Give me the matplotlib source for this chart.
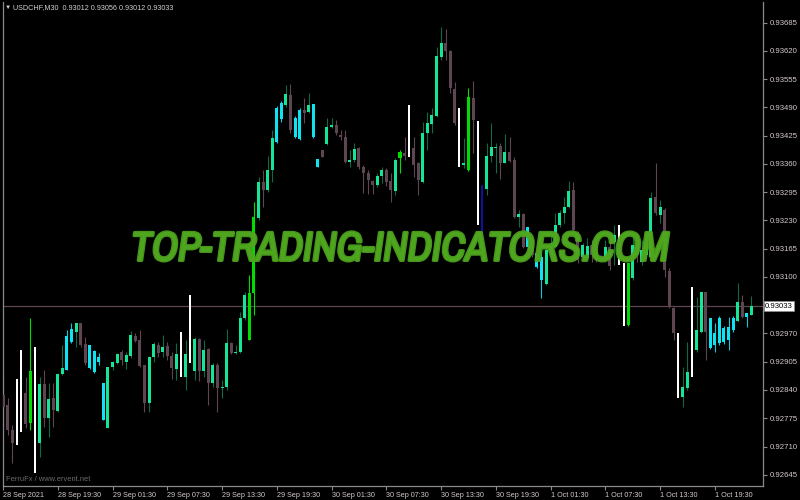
import numpy as np
import matplotlib.pyplot as plt
import matplotlib.patheffects as pe
from matplotlib import font_manager

# USDCHF M30, 28 Sep 2021 13:30 .. 1 Oct 2021 23:30 (one bar per 30 min)
opens = [
    0.92829, 0.92806, 0.92748, 0.92714, 0.92743, 0.92833, 0.92764, 0.92649, 0.92718, 0.92854,
    0.92776, 0.92822, 0.92792, 0.92877, 0.92886, 0.92950, 0.92973, 0.92994, 0.92946, 0.92891,
    0.92881, 0.92904, 0.92771, 0.92753, 0.92893, 0.92902, 0.92927, 0.92904, 0.92918, 0.92964,
    0.92955, 0.92898, 0.92810, 0.92916, 0.92944, 0.92927, 0.92941, 0.92918, 0.92888, 0.92870,
    0.92870, 0.92902, 0.92884, 0.92957, 0.92884, 0.92934, 0.92856, 0.92898, 0.92845, 0.92847,
    0.92948, 0.92925, 0.92927, 0.93006, 0.92955, 0.93063, 0.93236, 0.93318, 0.93300, 0.93346,
    0.93410, 0.93463, 0.93496, 0.93519, 0.93422, 0.93417, 0.93484, 0.93479, 0.93422, 0.93353,
    0.93392, 0.93406, 0.93445, 0.93450, 0.93427, 0.93422, 0.93364, 0.93369, 0.93397, 0.93353,
    0.93339, 0.93321, 0.93312, 0.93332, 0.93346, 0.93321, 0.93298, 0.93374, 0.93385, 0.93376,
    0.93397, 0.93362, 0.93318, 0.93431, 0.93452, 0.93470, 0.93606, 0.93638, 0.93620, 0.93532,
    0.93353, 0.93358, 0.93346, 0.93512, 0.93220, 0.93201, 0.93302, 0.93378, 0.93397, 0.93401,
    0.93362, 0.93387, 0.93369, 0.93238, 0.93245, 0.93169, 0.93185, 0.93123, 0.93093, 0.93084,
    0.93162, 0.93169, 0.93220, 0.93247, 0.93261, 0.93300, 0.93201, 0.93146, 0.93144, 0.93174,
    0.93174, 0.93137, 0.93139, 0.93169, 0.93180, 0.93128, 0.92987, 0.92990, 0.93098, 0.93174,
    0.93134, 0.93151, 0.93146, 0.93284, 0.93243, 0.93254, 0.93114, 0.93029, 0.92822, 0.92824,
    0.92845, 0.92870, 0.92932, 0.92973, 0.93065, 0.92937, 0.92944, 0.92948, 0.92950, 0.92955,
    0.92978, 0.92999, 0.93042, 0.93008, 0.93012,
]
highs = [
    0.92875, 0.92822, 0.92760, 0.92865, 0.92932, 0.92870, 0.93006, 0.92939, 0.92870, 0.92886,
    0.92856, 0.92856, 0.92879, 0.92944, 0.92978, 0.92994, 0.92994, 0.92994, 0.92962, 0.92944,
    0.92932, 0.92925, 0.92856, 0.92893, 0.92907, 0.92925, 0.92932, 0.92927, 0.92976, 0.92971,
    0.92978, 0.92898, 0.92918, 0.92950, 0.92950, 0.92967, 0.92950, 0.92927, 0.92948, 0.92973,
    0.92955, 0.93059, 0.92962, 0.92960, 0.92955, 0.92937, 0.92902, 0.92902, 0.92863, 0.92980,
    0.92950, 0.92944, 0.93019, 0.93065, 0.93105, 0.93272, 0.93330, 0.93346, 0.93378, 0.93438,
    0.93493, 0.93505, 0.93542, 0.93544, 0.93470, 0.93489, 0.93512, 0.93523, 0.93498, 0.93371,
    0.93392, 0.93466, 0.93466, 0.93461, 0.93438, 0.93438, 0.93392, 0.93408, 0.93399, 0.93358,
    0.93346, 0.93323, 0.93339, 0.93353, 0.93351, 0.93339, 0.93374, 0.93392, 0.93422, 0.93496,
    0.93422, 0.93364, 0.93456, 0.93479, 0.93489, 0.93629, 0.93675, 0.93670, 0.93622, 0.93548,
    0.93489, 0.93420, 0.93535, 0.93551, 0.93459, 0.93312, 0.93408, 0.93454, 0.93408, 0.93408,
    0.93429, 0.93422, 0.93376, 0.93254, 0.93247, 0.93215, 0.93190, 0.93157, 0.93155, 0.93167,
    0.93192, 0.93247, 0.93254, 0.93284, 0.93321, 0.93318, 0.93206, 0.93178, 0.93190, 0.93185,
    0.93178, 0.93151, 0.93185, 0.93185, 0.93220, 0.93220, 0.93132, 0.93132, 0.93201, 0.93178,
    0.93185, 0.93190, 0.93295, 0.93362, 0.93277, 0.93259, 0.93121, 0.93031, 0.92971, 0.92893,
    0.92950, 0.93077, 0.93054, 0.93065, 0.93065, 0.93006, 0.92994, 0.93010, 0.92987, 0.93008,
    0.93010, 0.93086, 0.93059, 0.93017, 0.93056,
]
lows = [
    0.92789, 0.92737, 0.92672, 0.92714, 0.92743, 0.92753, 0.92748, 0.92649, 0.92686, 0.92755,
    0.92732, 0.92755, 0.92789, 0.92875, 0.92886, 0.92948, 0.92939, 0.92939, 0.92898, 0.92888,
    0.92879, 0.92898, 0.92771, 0.92753, 0.92886, 0.92900, 0.92898, 0.92888, 0.92914, 0.92950,
    0.92893, 0.92789, 0.92789, 0.92904, 0.92916, 0.92916, 0.92909, 0.92865, 0.92863, 0.92870,
    0.92840, 0.92902, 0.92863, 0.92861, 0.92870, 0.92806, 0.92847, 0.92789, 0.92822, 0.92840,
    0.92923, 0.92923, 0.92925, 0.93001, 0.92955, 0.93013, 0.93231, 0.93261, 0.93295, 0.93318,
    0.93408, 0.93456, 0.93491, 0.93431, 0.93420, 0.93415, 0.93454, 0.93477, 0.93420, 0.93353,
    0.93376, 0.93404, 0.93443, 0.93427, 0.93415, 0.93362, 0.93353, 0.93364, 0.93348, 0.93293,
    0.93291, 0.93291, 0.93307, 0.93316, 0.93309, 0.93272, 0.93289, 0.93339, 0.93369, 0.93376,
    0.93330, 0.93289, 0.93316, 0.93392, 0.93431, 0.93468, 0.93599, 0.93599, 0.93523, 0.93450,
    0.93353, 0.93351, 0.93344, 0.93385, 0.93220, 0.93201, 0.93289, 0.93364, 0.93339, 0.93325,
    0.93362, 0.93364, 0.93236, 0.93215, 0.93167, 0.93164, 0.93146, 0.93121, 0.93052, 0.93082,
    0.93155, 0.93167, 0.93215, 0.93224, 0.93259, 0.93203, 0.93132, 0.93139, 0.93139, 0.93134,
    0.93134, 0.93134, 0.93134, 0.93116, 0.93128, 0.93128, 0.92987, 0.92987, 0.93093, 0.93134,
    0.93128, 0.93144, 0.93144, 0.93243, 0.93224, 0.93100, 0.93029, 0.92955, 0.92822, 0.92801,
    0.92840, 0.92870, 0.92927, 0.92971, 0.92909, 0.92934, 0.92927, 0.92944, 0.92946, 0.92932,
    0.92973, 0.92996, 0.93006, 0.92985, 0.93012,
]
closes = [
    0.92801, 0.92748, 0.92718, 0.92865, 0.92932, 0.92762, 0.92884, 0.92939, 0.92854, 0.92776,
    0.92819, 0.92794, 0.92877, 0.92891, 0.92964, 0.92980, 0.92994, 0.92944, 0.92902, 0.92944,
    0.92930, 0.92916, 0.92856, 0.92893, 0.92904, 0.92923, 0.92909, 0.92921, 0.92967, 0.92953,
    0.92895, 0.92810, 0.92916, 0.92946, 0.92925, 0.92939, 0.92918, 0.92891, 0.92923, 0.92973,
    0.92923, 0.93059, 0.92957, 0.92884, 0.92932, 0.92856, 0.92898, 0.92845, 0.92847, 0.92948,
    0.92925, 0.92927, 0.93006, 0.93059, 0.93063, 0.93238, 0.93318, 0.93300, 0.93346, 0.93420,
    0.93489, 0.93500, 0.93521, 0.93438, 0.93466, 0.93484, 0.93477, 0.93496, 0.93498, 0.93371,
    0.93376, 0.93445, 0.93450, 0.93431, 0.93422, 0.93364, 0.93369, 0.93394, 0.93353, 0.93339,
    0.93323, 0.93312, 0.93332, 0.93346, 0.93318, 0.93300, 0.93369, 0.93387, 0.93378, 0.93496,
    0.93358, 0.93323, 0.93431, 0.93454, 0.93473, 0.93608, 0.93638, 0.93620, 0.93535, 0.93454,
    0.93489, 0.93362, 0.93514, 0.93461, 0.93459, 0.93300, 0.93378, 0.93399, 0.93399, 0.93362,
    0.93387, 0.93367, 0.93238, 0.93245, 0.93169, 0.93215, 0.93151, 0.93155, 0.93146, 0.93162,
    0.93174, 0.93220, 0.93247, 0.93261, 0.93298, 0.93208, 0.93139, 0.93174, 0.93171, 0.93151,
    0.93139, 0.93139, 0.93169, 0.93125, 0.93197, 0.93220, 0.93132, 0.93132, 0.93174, 0.93151,
    0.93162, 0.93180, 0.93282, 0.93247, 0.93261, 0.93116, 0.93031, 0.92971, 0.92971, 0.92847,
    0.92881, 0.93077, 0.92978, 0.93065, 0.92973, 0.93006, 0.92971, 0.93006, 0.92983, 0.92985,
    0.93006, 0.93042, 0.93008, 0.93017, 0.93033,
]
# indicator state of each bar: b=down, g=up, c=up (cyan), l=strong up, w=spike, n=blue
states = ("bbbwwblwgb" "gbggccgbbc" "cccgggbggb" "bbggbgbbgw"
          "gwgbgbgbgg" "bgggllgbgg" "ccgbccbgcc" "bggbbbggbb"
          "bbggbbglbw" "bbgggggbbb" "wglbwngggb" "gbbgbcbccg"
          "gggggbbggb" "bngbgwwlgb" "gggbgbbbwg" "gwggbccccc" "cgbcg")

yticks = [0.93685, 0.93620, 0.93555, 0.93490, 0.93425, 0.93360, 0.93295, 0.93230,
          0.93165, 0.93100, 0.92970, 0.92905, 0.92840, 0.92775, 0.92710, 0.92645]
xlabels = ["28 Sep 2021", "28 Sep 19:30", "29 Sep 01:30", "29 Sep 07:30", "29 Sep 13:30",
           "29 Sep 19:30", "30 Sep 01:30", "30 Sep 07:30", "30 Sep 13:30", "30 Sep 19:30",
           "1 Oct 01:30", "1 Oct 07:30", "1 Oct 13:30", "1 Oct 19:30"]
xlabel_bars = [0, 12, 24, 36, 48, 60, 72, 84, 96, 108, 120, 132, 144, 156]

body_col = {'b': '#5d4552', 'g': '#16e496', 'c': '#0ee3f2', 'l': '#00dc00',
            'w': '#ffffff', 'n': '#10109a'}
wick_col = {'b': '#5d4552', 'g': '#0e6a46', 'c': '#0ec8dc', 'l': '#00dc00',
            'w': '#ffffff', 'n': '#10109a'}

plt.rcParams['font.family'] = ['Liberation Sans', 'DejaVu Sans']

# pick a condensed face for the watermark if one is installed
names = sorted({f.name for f in font_manager.fontManager.ttflist})
cond = [n for n in names if 'Condensed' in n or 'Narrow' in n]
wm_family = cond + ['DejaVu Sans']

fig = plt.figure(figsize=(8, 5), dpi=100, facecolor='black')
ax = fig.add_axes([0.00375, 0.028, 0.95, 0.968])
ax.set_facecolor('black')

o = np.array(opens)
h = np.array(highs)
l = np.array(lows)
c = np.array(closes)
x = np.arange(len(o))

for i in x:
    s = states[i]
    if s in 'wn':
        ax.bar(i, h[i] - l[i], bottom=l[i], width=0.42, color=body_col[s], lw=0, zorder=3)
    else:
        ax.vlines(i, l[i], h[i], color=wick_col[s], lw=0.8, zorder=2)
        lo = min(o[i], c[i])
        hgt = max(abs(c[i] - o[i]), 0.00002)
        ax.bar(i, hgt, bottom=lo, width=0.66, color=body_col[s], lw=0, zorder=3)

# last price line
ax.axhline(c[-1], color='#5d4552', lw=0.9, zorder=1)

ax.set_xlim(0.05, 166.55)
ax.set_ylim(0.926192, 0.937324)

ax.yaxis.tick_right()
ax.set_yticks(yticks)
ax.set_yticklabels(['%.5f' % v for v in yticks])
ax.set_xticks(xlabel_bars)
ax.set_xticklabels(xlabels, ha='left')
ax.tick_params(axis='y', colors='#8a8a8a', labelcolor='#d4c8cf', labelsize=5.6,
               length=3, width=0.8, pad=1.5)
ax.tick_params(axis='x', colors='#8a8a8a', labelcolor='#d4c8cf', labelsize=5.2,
               length=3, width=0.8, pad=1.5)
for sp in ['left', 'right', 'bottom']:
    ax.spines[sp].set_color('#8a8a8a')
    ax.spines[sp].set_linewidth(0.9)
ax.spines['top'].set_visible(False)

# current price tag
ax.text(1.0025, c[-1], '%.5f' % c[-1], transform=ax.get_yaxis_transform(),
        fontsize=5.6, color='black', va='center', ha='left',
        bbox=dict(boxstyle='square,pad=0.15', fc='white', ec='#8a8a8a', lw=0.6))

fig.text(0.006, 0.985, '\u25bc', color='#d0d0d0', fontsize=4.5, va='center')
fig.text(0.016, 0.985, 'USDCHF,M30  0.93012 0.93056 0.93012 0.93033',
         color='#d0d0d0', fontsize=5.2, va='center')
fig.text(0.007, 0.041, 'FerruFx / www.ervent.net', color='#6c6c6c', fontsize=5.4,
         va='center')

wm_col = '#4fa71f'
fig.text(0.5, 0.502, 'TOP-TRADING-INDICATORS.COM', color=wm_col, alpha=0.9,
         fontsize=29.5, fontweight='bold', fontstyle='italic', fontstretch='condensed',
         family=wm_family, ha='center', va='center', zorder=10,
         path_effects=[pe.withStroke(linewidth=2.2, foreground=wm_col)])

fig.savefig('out.png', dpi=100, facecolor='black')
